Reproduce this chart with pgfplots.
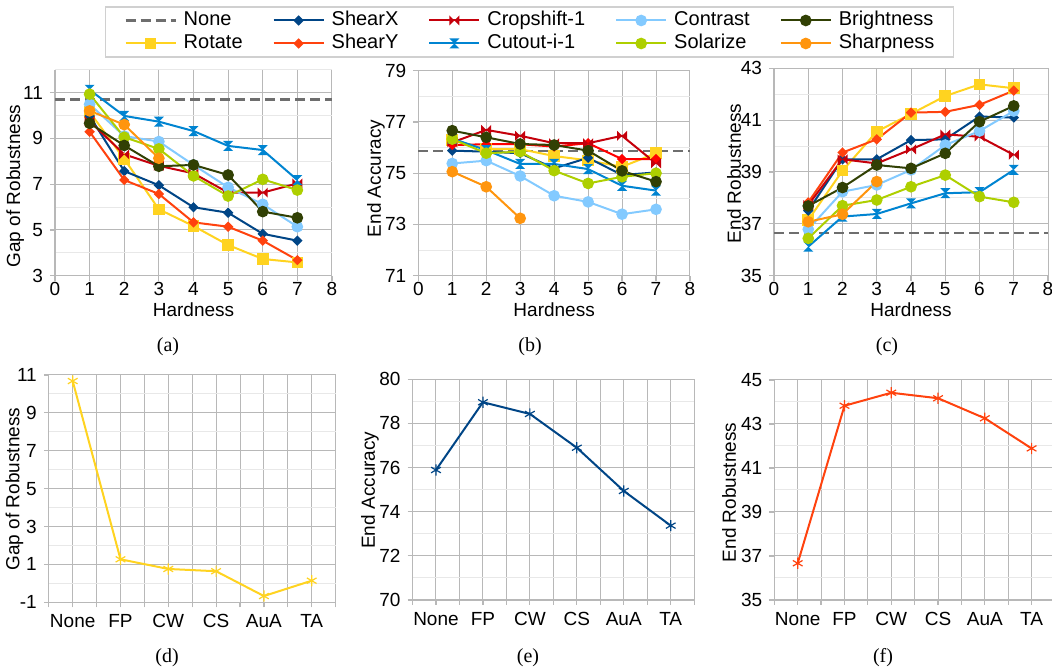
\documentclass[border=0pt]{standalone}
\usepackage{fontspec}
\setmainfont{Liberation Sans}
\newfontfamily\seriffont{Liberation Serif}
\usepackage{pgfplots}
\pgfplotsset{compat=1.18}

\definecolor{cnone}{HTML}{6E6E6E}
\definecolor{crot}{HTML}{FFD320}
\definecolor{cshx}{HTML}{004586}
\definecolor{cshy}{HTML}{FF420E}
\definecolor{ccrop}{HTML}{C5000B}
\definecolor{ccut}{HTML}{0084D1}
\definecolor{ccon}{HTML}{83CAFF}
\definecolor{csol}{HTML}{AECF00}
\definecolor{cbri}{HTML}{314004}
\definecolor{cshp}{HTML}{FF950E}
\definecolor{gridmaj}{HTML}{B8B8B8}
\definecolor{gridmin}{HTML}{E8E8E8}
\definecolor{legbord}{HTML}{D0D0D0}

% filled marks of the office chart
\pgfdeclareplotmark{dia}{%
  \pgfpathmoveto{\pgfqpoint{0pt}{\pgfplotmarksize}}%
  \pgfpathlineto{\pgfqpoint{\pgfplotmarksize}{0pt}}%
  \pgfpathlineto{\pgfqpoint{0pt}{-\pgfplotmarksize}}%
  \pgfpathlineto{\pgfqpoint{-\pgfplotmarksize}{0pt}}%
  \pgfpathclose\pgfusepathqfill}
\pgfdeclareplotmark{bowtie}{%
  \pgfpathmoveto{\pgfqpoint{-\pgfplotmarksize}{\pgfplotmarksize}}%
  \pgfpathlineto{\pgfqpoint{-\pgfplotmarksize}{-\pgfplotmarksize}}%
  \pgfpathlineto{\pgfqpoint{\pgfplotmarksize}{\pgfplotmarksize}}%
  \pgfpathlineto{\pgfqpoint{\pgfplotmarksize}{-\pgfplotmarksize}}%
  \pgfpathclose\pgfusepathqfill}
\pgfdeclareplotmark{hourglass}{%
  \pgfpathmoveto{\pgfqpoint{-\pgfplotmarksize}{\pgfplotmarksize}}%
  \pgfpathlineto{\pgfqpoint{\pgfplotmarksize}{\pgfplotmarksize}}%
  \pgfpathlineto{\pgfqpoint{-\pgfplotmarksize}{-\pgfplotmarksize}}%
  \pgfpathlineto{\pgfqpoint{\pgfplotmarksize}{-\pgfplotmarksize}}%
  \pgfpathclose\pgfusepathqfill}

\pgfplotsset{
  lnone/.style={cnone, line width=1.1pt, dash pattern=on 5pt off 2.5pt, mark=none},
  lrot/.style={crot, line width=1pt, mark=square*, mark size=2.4pt},
  lshx/.style={cshx, line width=1pt, mark=dia, mark size=2.6pt},
  lshy/.style={cshy, line width=1pt, mark=dia, mark size=2.6pt},
  lcrop/.style={ccrop, line width=1pt, mark=bowtie, mark size=2.5pt},
  lcut/.style={ccut, line width=1pt, mark=hourglass, mark size=2.5pt},
  lcon/.style={ccon, line width=1pt, mark=*, mark size=2.4pt},
  lsol/.style={csol, line width=1pt, mark=*, mark size=2.4pt},
  lbri/.style={cbri, line width=1pt, mark=*, mark size=2.4pt},
  lshp/.style={cshp, line width=1pt, mark=*, mark size=2.4pt},
  common/.style={
    scale only axis, clip=false,
    axis x line*=bottom, axis y line*=left,
    axis line style={draw=gridmaj, line width=0.6pt},
    tick align=outside, major tick length=2.5pt, minor tick length=0pt,
    tick style={gridmaj, line width=0.6pt},
    grid=both,
    major grid style={gridmaj, line width=0.5pt},
    minor grid style={gridmin, line width=0.5pt},
    ticklabel style={font=\fontsize{9.5}{11}\selectfont},
    label style={font=\fontsize{9.5}{11}\selectfont},
    /pgf/number format/assume math mode=true,
  },
  toppanel/.style={common, xmin=0, xmax=8, xtick={0,...,8}, xlabel={Hardness},
    xticklabel style={yshift=2.75pt},
    xlabel style={at={(axis description cs:0.5,-0.164)}, anchor=center}},
  botpanel/.style={common, xmin=-0.5, xmax=5.5, xtick={0,...,5},
    xticklabels={None,FP,CW,CS,AuA,TA},
    minor xtick={-0.5,0.5,...,5.5},
    minor x grid style={gridmaj, line width=0.5pt},
    minor tick length=2.5pt,
    minor y tick style={draw=none}},
  ylab/.style 2 args={ylabel style={at={(axis description cs:#1,#2)}, anchor=center}},
}

\begin{document}
\begin{tikzpicture}
\path[use as bounding box] (0,0) rectangle (526pt,333.5pt);

% (a) gap of robustness
\begin{axis}[toppanel, at={(27.5pt,195.65pt)}, anchor=south west,
  width=138.5pt, height=103pt,
  ymin=3, ymax=12, ytick={3,5,...,11}, minor ytick={4,6,...,12},
  ylabel={Gap of Robustness}, ylab={-0.144}{0.435},
  legend columns=5, legend cell align=left,
  legend image code/.code={\draw[mark repeat=2,mark phase=2,#1] plot coordinates {(0pt,0pt)(12.5pt,0pt)(25pt,0pt)};},
  legend style={at={(1.713,1.183)}, anchor=center, draw=legbord, line width=0.8pt,
    font=\fontsize{10}{12}\selectfont, inner xsep=9.5pt, inner ysep=2pt, row sep=2pt,
    nodes={inner xsep=0pt, inner ysep=0pt, text height=7.4pt, text depth=2.1pt, anchor=west},
    cells={anchor=west},
    /tikz/every odd column/.append style={column sep=3.5pt},
    /tikz/every even column/.append style={column sep=15pt}},
]
\addplot[lnone, forget plot] coordinates {(0,10.7)(8,10.7)};
\addplot[lrot, forget plot] coordinates {(1,10.15)(2,8.1)(3,5.9)(4,5.17)(5,4.34)(6,3.73)(7,3.58)};
\addplot[lshx, forget plot] coordinates {(1,9.98)(2,7.57)(3,6.95)(4,5.99)(5,5.75)(6,4.83)(7,4.53)};
\addplot[lshy, forget plot] coordinates {(1,9.29)(2,7.18)(3,6.57)(4,5.33)(5,5.14)(6,4.53)(7,3.68)};
\addplot[lcrop, forget plot] coordinates {(1,9.75)(2,8.3)(3,7.8)(4,7.47)(5,6.63)(6,6.63)(7,7.03)};
\addplot[lcut, forget plot] coordinates {(1,11.12)(2,9.98)(3,9.73)(4,9.32)(5,8.67)(6,8.49)(7,7.18)};
\addplot[lcon, forget plot] coordinates {(1,10.49)(2,9.1)(3,8.86)(4,7.84)(5,6.86)(6,6.12)(7,5.14)};
\addplot[lsol, forget plot] coordinates {(1,10.93)(2,9.05)(3,8.54)(4,7.36)(5,6.48)(6,7.21)(7,6.74)};
\addplot[lbri, forget plot] coordinates {(1,9.66)(2,8.69)(3,7.78)(4,7.84)(5,7.4)(6,5.8)(7,5.53)};
\addplot[lshp, forget plot] coordinates {(1,10.2)(2,9.6)(3,8.13)};
\addlegendimage{lnone}\addlegendentry{None}
\addlegendimage{lshx}\addlegendentry{ShearX}
\addlegendimage{lcrop}\addlegendentry{Cropshift-1}
\addlegendimage{lcon}\addlegendentry{Contrast}
\addlegendimage{lbri}\addlegendentry{Brightness}
\addlegendimage{lrot}\addlegendentry{Rotate}
\addlegendimage{lshy}\addlegendentry{ShearY}
\addlegendimage{lcut}\addlegendentry{Cutout-i-1}
\addlegendimage{lsol}\addlegendentry{Solarize}
\addlegendimage{lshp}\addlegendentry{Sharpness}
\end{axis}

% (b) end accuracy
\begin{axis}[toppanel, at={(209.15pt,195.65pt)}, anchor=south west,
  width=135.85pt, height=102.5pt,
  ymin=71, ymax=79, ytick={71,73,...,79}, minor ytick={72,74,...,78},
  ylabel={End Accuracy}, ylab={-0.156}{0.474}]
\addplot[lnone] coordinates {(0,75.88)(8,75.88)};
\addplot[lrot] coordinates {(1,76.3)(2,75.94)(3,75.94)(4,75.67)(5,75.5)(6,75.25)(7,75.78)};
\addplot[lshx] coordinates {(1,75.88)(2,75.84)(3,75.78)(4,75.19)(5,75.6)(6,74.93)(7,75.03)};
\addplot[lshy, red] coordinates {(1,76.1)(2,76.13)(3,76.13)(4,76.04)(5,76.17)(6,75.55)(7,75.55)};
\addplot[lcrop] coordinates {(1,76.2)(2,76.69)(3,76.46)(4,76.17)(5,76.17)(6,76.46)(7,75.38)};
\addplot[lcut] coordinates {(1,76.35)(2,75.9)(3,75.36)(4,75.36)(5,75.16)(6,74.51)(7,74.32)};
\addplot[lcon] coordinates {(1,75.38)(2,75.49)(3,74.89)(4,74.12)(5,73.88)(6,73.4)(7,73.59)};
\addplot[lsol] coordinates {(1,76.33)(2,75.78)(3,75.84)(4,75.1)(5,74.6)(6,74.86)(7,75.0)};
\addplot[lbri] coordinates {(1,76.66)(2,76.4)(3,76.14)(4,76.1)(5,75.88)(6,75.09)(7,74.67)};
\addplot[lshp] coordinates {(1,75.06)(2,74.47)(3,73.24)};
\end{axis}

% (c) end robustness
\begin{axis}[toppanel, at={(387pt,195.65pt)}, anchor=south west,
  width=137pt, height=103.7pt,
  ymin=35, ymax=43, ytick={35,37,...,43}, minor ytick={36,38,...,42},
  ylabel={End Robustness}, ylab={-0.146}{0.493}]
\addplot[lnone] coordinates {(0,36.66)(8,36.66)};
\addplot[lrot] coordinates {(1,37.15)(2,39.05)(3,40.56)(4,41.24)(5,41.93)(6,42.38)(7,42.23)};
\addplot[lshx] coordinates {(1,37.51)(2,39.49)(3,39.49)(4,40.23)(5,40.26)(6,41.14)(7,41.1)};
\addplot[lshy] coordinates {(1,37.83)(2,39.75)(3,40.26)(4,41.29)(5,41.32)(6,41.59)(7,42.14)};
\addplot[lcrop] coordinates {(1,37.73)(2,39.49)(3,39.33)(4,39.87)(5,40.45)(6,40.36)(7,39.66)};
\addplot[lcut] coordinates {(1,36.12)(2,37.28)(3,37.38)(4,37.79)(5,38.18)(6,38.22)(7,39.08)};
\addplot[lcon] coordinates {(1,36.79)(2,38.24)(3,38.5)(4,39.08)(5,40.04)(6,40.58)(7,41.35)};
\addplot[lsol] coordinates {(1,36.44)(2,37.7)(3,37.92)(4,38.43)(5,38.88)(6,38.05)(7,37.83)};
\addplot[lbri] coordinates {(1,37.69)(2,38.4)(3,39.27)(4,39.14)(5,39.72)(6,40.94)(7,41.55)};
\addplot[lshp] coordinates {(1,37.08)(2,37.37)(3,38.63)};
\end{axis}

% (d)
\begin{axis}[botpanel, at={(24.4pt,32.35pt)}, anchor=south west,
  width=143.4pt, height=113.65pt,
  ymin=-1, ymax=11, ytick={-1,1,...,11}, minor ytick={0,2,...,10},
  ylabel={Gap of Robustness}, ylab={-0.12}{0.498}]
\addplot[crot, line width=1pt, mark=asterisk, mark size=2.8pt, mark options={line width=0.6pt}]
  coordinates {(0,10.68)(1,1.27)(2,0.76)(3,0.64)(4,-0.67)(5,0.14)};
\end{axis}

% (e)
\begin{axis}[botpanel, at={(206.25pt,33.5pt)}, anchor=south west,
  width=140.85pt, height=110.35pt,
  ymin=70, ymax=80, ytick={70,72,...,80}, minor ytick={71,73,...,79},
  ylabel={End Accuracy}, ylab={-0.151}{0.498}]
\addplot[cshx, line width=1pt, mark=asterisk, mark size=2.8pt, mark options={line width=0.6pt}]
  coordinates {(0,75.89)(1,78.96)(2,78.43)(3,76.9)(4,74.94)(5,73.37)};
\end{axis}

% (f)
\begin{axis}[botpanel, at={(387.15pt,33.5pt)}, anchor=south west,
  width=140.35pt, height=110pt,
  ymin=35, ymax=45, ytick={35,37,...,45}, minor ytick={36,38,...,44},
  ylabel={End Robustness}, ylab={-0.161}{0.489}]
\addplot[cshy, line width=1pt, mark=asterisk, mark size=2.8pt, mark options={line width=0.6pt}]
  coordinates {(0,36.67)(1,43.83)(2,44.42)(3,44.17)(4,43.26)(5,41.89)};
\end{axis}

\begin{scope}[every node/.style={font=\seriffont\fontsize{10}{12}\selectfont}]
\node at (84pt,160pt) {(a)};
\node at (265pt,160pt) {(b)};
\node at (443.5pt,160pt) {(c)};
\node at (83.5pt,4.6pt) {(d)};
\node at (264pt,4.6pt) {(e)};
\node at (441.5pt,4.6pt) {(f)};
\end{scope}
\end{tikzpicture}
\end{document}
